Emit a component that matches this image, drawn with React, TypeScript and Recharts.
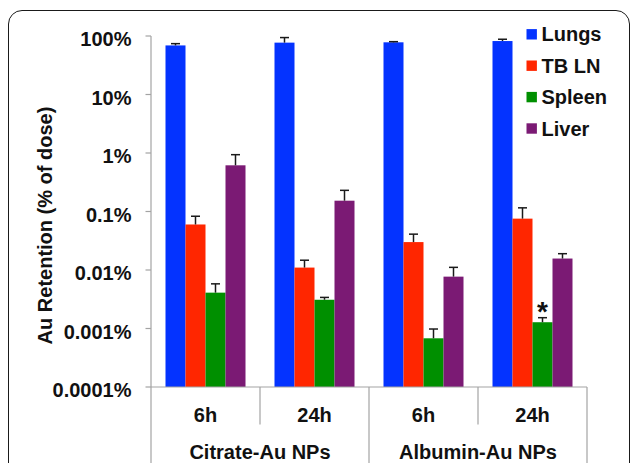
import React from 'react';
import { BarChart, Bar, XAxis, YAxis, Legend, LabelList } from 'recharts';

// categories along the x axis, two time points per particle type
const categories = ['6h', '24h', '6h', '24h'];
const groups = ['Citrate-Au NPs', 'Albumin-Au NPs'];

// Au retention, % of dose
const lungs = [69, 77, 78, 82];
const lungsErr = [5, 17, 2, 6];
const tbln = [0.06, 0.011, 0.03, 0.0755];
const tblnErr = [0.023, 0.0037, 0.011, 0.04];
const spleen = [0.0041, 0.0031, 0.00068, 0.00128];
const spleenErr = [0.0017, 0.0003, 0.0003, 0.00025];
const liver = [0.616, 0.153, 0.0077, 0.0157];
const liverErr = [0.32, 0.077, 0.0034, 0.0033];
const marks = ['', '', '', '*'];

const seriesNames = ['Lungs', 'TB LN', 'Spleen', 'Liver'];
const COLORS = ['#0433ff', '#ff2600', '#008f00', '#7b1a74'];

const yTicks = [0.0001, 0.001, 0.01, 0.1, 1, 10, 100];
const yTickLabels = ['0.0001%', '0.001%', '0.01%', '0.1%', '1%', '10%', '100%'];

const W = 630;
const H = 463;
const FONT = "Arial, 'Liberation Sans', sans-serif";
const AXIS = '#a3a3a3';

const data = categories.map((c, i) => ({
  key: `${groups[Math.floor(i / 2)]} ${c}`,
  lungs: lungs[i],
  lungsErr: lungsErr[i],
  tbln: tbln[i],
  tblnErr: tblnErr[i],
  spleen: spleen[i],
  spleenErr: spleenErr[i],
  liver: liver[i],
  liverErr: liverErr[i],
  mark: marks[i],
}));

// bar with an upper-only error bar, cap position taken from the bar's own log geometry
const makeShape = (valKey: string, errKey: string) => (props: any) => {
  const { x, y, width, height, fill, payload } = props;
  const v = payload[valKey];
  const e = payload[errKey];
  const perDecade = height / (Math.log10(v) - Math.log10(yTicks[0]));
  const capY = y - (Math.log10(v + e) - Math.log10(v)) * perDecade;
  const cx = x + width / 2;
  return (
    <g>
      <rect x={x} y={y} width={width} height={height} fill={fill} />
      <line x1={cx} y1={y} x2={cx} y2={capY} stroke="#1a1a1a" strokeWidth={1.5} />
      <line x1={cx - 4.5} y1={capY} x2={cx + 4.5} y2={capY} stroke="#1a1a1a" strokeWidth={1.5} />
    </g>
  );
};

const YTick = (props: any) => {
  const { x, y, payload } = props;
  const idx = yTicks.indexOf(payload.value);
  return (
    <text x={x} y={y + 10} textAnchor="end" fontFamily={FONT} fontWeight="bold" fontSize={20} fill="#111">
      {idx >= 0 ? yTickLabels[idx] : payload.value}
    </text>
  );
};

const XTick = (props: any) => {
  const { x, y, index, width, visibleTicksCount } = props;
  const band = width / visibleTicksCount;
  const left = x - band / 2;
  const down = H - y;
  const isGroupStart = index % 2 === 0;
  return (
    <g>
      <line x1={left} y1={y} x2={left} y2={isGroupStart ? y + down : y + 37.5} stroke={AXIS} strokeWidth={1.2} />
      {index === visibleTicksCount - 1 && (
        <line x1={x + band / 2} y1={y} x2={x + band / 2} y2={y + down} stroke={AXIS} strokeWidth={1.2} />
      )}
      <text x={x} y={y + 34.5} textAnchor="middle" fontFamily={FONT} fontWeight="bold" fontSize={20} fill="#111">
        {categories[index]}
      </text>
      {!isGroupStart && (
        <text x={left} y={y + 72} textAnchor="middle" fontFamily={FONT} fontWeight="bold" fontSize={20} fill="#111">
          {groups[Math.floor(index / 2)]}
        </text>
      )}
    </g>
  );
};

const YTitle = (props: any) => {
  const vb = props.viewBox;
  const cx = 51.5;
  const cy = vb.y + vb.height / 2 + 14;
  return (
    <text
      x={cx}
      y={cy}
      transform={`rotate(-90, ${cx}, ${cy})`}
      textAnchor="middle"
      fontFamily={FONT}
      fontWeight="bold"
      fontSize={20}
      fill="#111"
    >
      Au Retention (% of dose)
    </text>
  );
};

const renderLegend = (props: any) => {
  const payload = [...(props.payload || [])].sort(
    (a: any, b: any) => seriesNames.indexOf(a.value) - seriesNames.indexOf(b.value)
  );
  return (
    <svg width={110} height={130} style={{ display: 'block', overflow: 'visible' }}>
      {payload.map((entry: any, i: number) => {
        const cy = 14.3 + 31.4 * i;
        return (
          <g key={entry.value}>
            <rect x={0.5} y={cy - 5.2} width={10.4} height={10.4} fill={entry.color} />
            <text x={15.5} y={cy + 7} fontFamily={FONT} fontWeight="bold" fontSize={20} fill="#111">
              {entry.value}
            </text>
          </g>
        );
      })}
    </svg>
  );
};

const Asterisk = (props: any) => {
  const { x, y, width, value } = props;
  if (!value) return null;
  return (
    <text x={x + width / 2} y={y - 1} textAnchor="middle" fontFamily={FONT} fontWeight="bold" fontSize={28} fill="#111">
      {value}
    </text>
  );
};

const keys = ['lungs', 'tbln', 'spleen', 'liver'];

export default function App() {
  return (
    <div style={{ position: 'absolute', left: 0, top: 0, width: W, height: H, overflow: 'hidden', background: '#fff' }}>
      <div
        style={{
          position: 'absolute',
          left: 8,
          top: 10,
          width: 622,
          height: 520,
          border: '1.5px solid #1a1a1a',
          borderRadius: 14,
          boxSizing: 'border-box',
        }}
      />
      <div style={{ position: 'absolute', left: 0, top: 0 }}>
        <BarChart
          width={W}
          height={H}
          data={data}
          margin={{ top: 36, right: 43, bottom: 0, left: 0 }}
          barCategoryGap={14.5}
          barGap={0}
        >
          <XAxis
            dataKey="key"
            height={76}
            tickSize={0}
            tickMargin={0}
            tickLine={false}
            axisLine={{ stroke: AXIS, strokeWidth: 1.2 }}
            tick={<XTick />}
            interval={0}
          />
          <YAxis
            type="number"
            scale="log"
            domain={[yTicks[0], yTicks[yTicks.length - 1]]}
            ticks={yTicks}
            allowDataOverflow
            interval={0}
            width={151}
            tickSize={5.5}
            tickMargin={14}
            axisLine={{ stroke: AXIS, strokeWidth: 1.2 }}
            tickLine={{ stroke: AXIS, strokeWidth: 1.2 }}
            tick={<YTick />}
            label={<YTitle />}
          />
          <Legend
            layout="vertical"
            align="center"
            verticalAlign="middle"
            wrapperStyle={{ left: 526, top: 20, width: 110 }}
            content={renderLegend}
          />
          {keys.map((k, i) => (
            <Bar
              key={k}
              dataKey={k}
              name={seriesNames[i]}
              fill={COLORS[i]}
              isAnimationActive={false}
              shape={makeShape(k, `${k}Err`)}
            >
              {k === 'spleen' && <LabelList dataKey="mark" content={<Asterisk />} />}
            </Bar>
          ))}
        </BarChart>
      </div>
    </div>
  );
}
